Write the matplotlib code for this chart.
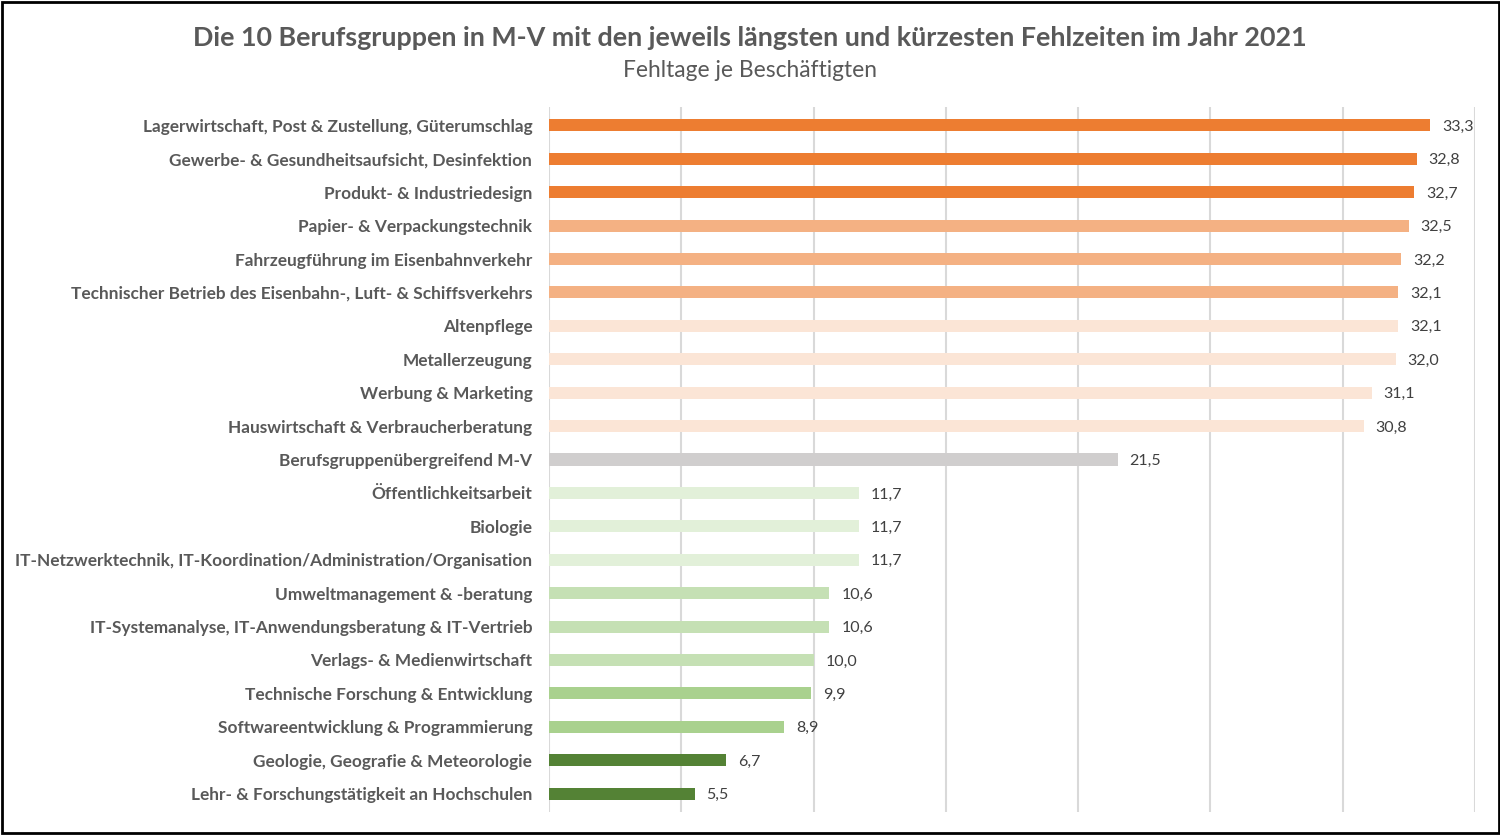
import matplotlib
matplotlib.use("Agg")
import matplotlib.pyplot as plt

# berufsgruppen von oben nach unten
kategorien = [
    "Lagerwirtschaft, Post & Zustellung, Güterumschlag",
    "Gewerbe- & Gesundheitsaufsicht, Desinfektion",
    "Produkt- & Industriedesign",
    "Papier- & Verpackungstechnik",
    "Fahrzeugführung im Eisenbahnverkehr",
    "Technischer Betrieb des Eisenbahn-, Luft- & Schiffsverkehrs",
    "Altenpflege",
    "Metallerzeugung",
    "Werbung & Marketing",
    "Hauswirtschaft & Verbraucherberatung",
    "Berufsgruppenübergreifend M-V",
    "Öffentlichkeitsarbeit",
    "Biologie",
    "IT-Netzwerktechnik, IT-Koordination/Administration/Organisation",
    "Umweltmanagement & -beratung",
    "IT-Systemanalyse, IT-Anwendungsberatung & IT-Vertrieb",
    "Verlags- & Medienwirtschaft",
    "Technische Forschung & Entwicklung",
    "Softwareentwicklung & Programmierung",
    "Geologie, Geografie & Meteorologie",
    "Lehr- & Forschungstätigkeit an Hochschulen",
]
fehltage = [33.3, 32.8, 32.7, 32.5, 32.2, 32.1, 32.1, 32.0, 31.1, 30.8,
            21.5, 11.7, 11.7, 11.7, 10.6, 10.6, 10.0, 9.9, 8.9, 6.7, 5.5]
farben = (["#ED7D31"] * 3 + ["#F4B183"] * 3 + ["#FBE5D6"] * 4 + ["#D0CECE"]
          + ["#E2F0D9"] * 3 + ["#C5E0B4"] * 3 + ["#A9D18E"] * 2 + ["#548235"] * 2)

plt.rcParams['font.family'] = ['Lato', 'DejaVu Sans']

fig = plt.figure(figsize=(15, 8.35), dpi=100)
ax = fig.add_axes([0.366, 0.0275, 0.6173, 0.8444])

y = list(range(len(kategorien)))
ax.barh(y, fehltage, height=0.36, color=farben, zorder=3)

for yi, v in zip(y, fehltage):
    ax.text(v + 0.45, yi, f"{v:.1f}".replace(".", ","), va="center_baseline", ha="left",
            fontsize=11.5, color="#404040", zorder=4)

ax.set_xlim(0, 35)
ax.set_ylim(20.55, -0.55)
ax.set_xticks(range(0, 36, 5))
ax.xaxis.grid(True, color="#D9D9D9", linewidth=1.5, zorder=0)
ax.tick_params(axis="x", length=0, labelbottom=False)
ax.tick_params(axis="y", length=0, pad=12)
ax.set_yticks(y)
ax.set_yticklabels(kategorien, fontsize=12.4, fontweight="bold", color="#595959")
for s in ax.spines.values():
    s.set_visible(False)

fig.text(0.5, 0.955, "Die 10 Berufsgruppen in M-V mit den jeweils längsten und kürzesten Fehlzeiten im Jahr 2021",
         ha="center", va="center", fontsize=19.4, fontweight="bold", color="#595959")
fig.text(0.5, 0.916, "Fehltage je Beschäftigten", ha="center", va="center",
         fontsize=16.4, color="#595959")

# rahmen um die ganze grafik
fig.patches.append(plt.Rectangle((0.001, 0.002), 0.998, 0.996, transform=fig.transFigure,
                                 fill=False, edgecolor="black", linewidth=2))

fig.savefig("out.png", dpi=100)
